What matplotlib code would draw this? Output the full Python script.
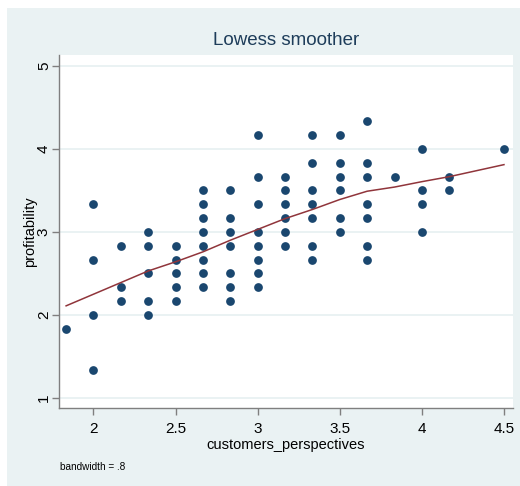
import matplotlib
matplotlib.use('Agg')
import matplotlib.pyplot as plt
from matplotlib.patches import Rectangle
import numpy as np

plt.rcParams['font.family'] = ['Liberation Sans', 'DejaVu Sans']

# scatter data, one list of profitability values per customers_perspectives level
x_levels = [11/6, 2, 13/6, 7/3, 2.5, 8/3, 17/6, 3, 19/6, 10/3, 3.5, 11/3, 23/6, 4, 25/6, 4.5]
y_by_level = [
    [11/6],
    [10/3, 8/3, 2, 4/3],
    [17/6, 7/3, 13/6],
    [3, 17/6, 2.5, 13/6, 2],
    [17/6, 8/3, 2.5, 7/3, 13/6],
    [3.5, 10/3, 19/6, 3, 17/6, 8/3, 2.5, 7/3],
    [3.5, 19/6, 3, 17/6, 2.5, 7/3, 13/6],
    [25/6, 11/3, 10/3, 3, 17/6, 8/3, 2.5, 7/3],
    [11/3, 3.5, 10/3, 19/6, 3, 17/6],
    [25/6, 23/6, 3.5, 10/3, 19/6, 17/6, 8/3],
    [25/6, 23/6, 11/3, 3.5, 19/6, 3],
    [13/3, 23/6, 11/3, 10/3, 19/6, 17/6, 8/3],
    [11/3],
    [4, 3.5, 10/3, 3],
    [11/3, 3.5],
    [4],
]

# lowess fit (bandwidth .8) at each distinct x
lowess_y = [2.11, 2.25, 2.39, 2.53, 2.64, 2.76, 2.90, 3.03,
            3.16, 3.27, 3.39, 3.49, 3.54, 3.605, 3.665, 3.81]

bg = '#EAF2F3'
navy = '#1A476F'
maroon = '#90353B'

W, H = 520, 486
fig = plt.figure(figsize=(W/100, H/100), dpi=100)
fig.patch.set_facecolor('white')
fig.add_artist(Rectangle((7/W, 0), 1 - 7/W, (H - 8)/H, transform=fig.transFigure,
                         facecolor=bg, edgecolor='none', zorder=-10))

left, right, top, bottom = 58.5, 513, 55, 408
ax = fig.add_axes([left/W, 1 - bottom/H, (right - left)/W, (bottom - top)/H])
ax.set_facecolor('white')

xs = [x for x, ys in zip(x_levels, y_by_level) for _ in ys]
ys = [y for ys in y_by_level for y in ys]
ax.plot(xs, ys, 'o', color=navy, markersize=6.3, markeredgewidth=0, zorder=3)
ax.plot(x_levels, lowess_y, '-', color=maroon, lw=1.1, zorder=4)

ax.set_xlim(1.787, 4.555)
ax.set_ylim(0.88, 5.13)
ax.set_xticks([2, 2.5, 3, 3.5, 4, 4.5])
ax.set_xticklabels(['2', '2.5', '3', '3.5', '4', '4.5'])
ax.set_yticks([1, 2, 3, 4, 5])
ax.grid(axis='y', color=bg, lw=1.4, zorder=1)
ax.set_axisbelow(True)

for s in ['top', 'right']:
    ax.spines[s].set_visible(False)
for s in ['left', 'bottom']:
    ax.spines[s].set_color('#7f7f7f')
    ax.spines[s].set_linewidth(1.0)
ax.tick_params(axis='both', colors='#7f7f7f', length=5, width=1.0, labelcolor='black',
               labelsize=11)
ax.tick_params(axis='y', labelrotation=90, pad=0.5)
for lab in ax.get_yticklabels():
    lab.set_va('center')
ax.tick_params(axis='x', pad=5)

ax.set_xlabel('customers_perspectives', fontsize=10.5)
ax.set_ylabel('profitability', fontsize=10.5)
ax.xaxis.set_label_coords(0.5, -0.105)
ax.yaxis.set_label_coords(-0.063, 0.5)
ax.xaxis.label.set_va('center')
ax.yaxis.label.set_va('center')
ax.set_title('Lowess smoother', fontsize=13.5, color='#1E3D5A', pad=7)
fig.text(60/W, 1 - 467/H, 'bandwidth = .8', fontsize=7.2, va='center', ha='left')

fig.savefig('out.png', dpi=100)
